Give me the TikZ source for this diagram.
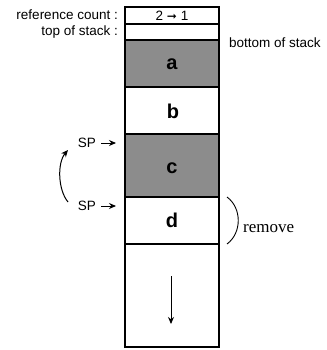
\documentclass[tikz,border=0pt]{standalone}
\usepackage{fontspec}
\setmainfont{Liberation Sans}
\newfontfamily\serifrm{Liberation Serif}
\newfontfamily\symf{DejaVu Sans}
\usetikzlibrary{arrows.meta}
\begin{document}
\begin{tikzpicture}[x=1pt,y=-1pt,
  cell/.style={draw=black,line width=1.4pt},
  shaded/.style={cell,fill=black!45,line width=1.9pt},
  lbl/.style={font=\fontsize{13.5}{15}\selectfont,inner sep=0pt},
  big/.style={font=\fontsize{20}{24}\selectfont\bfseries,inner sep=0pt},
  arr/.style={-{Stealth[length=7pt,width=6pt]},line width=1pt}]
\useasboundingbox (0,0) rectangle (326,350);
% cells
\draw[cell] (125,7) rectangle (219,24);
\draw[cell] (125,24) rectangle (219,40);
\draw[shaded] (125,40) rectangle (219,87);
\draw[cell] (125,87) rectangle (219,134);
\draw[shaded] (125,134) rectangle (219,197);
\draw[cell] (125,197) rectangle (219,244);
\draw[cell] (125,244) rectangle (219,347);
% labels in cells
\node[lbl] (rc) at (172,15.5) {2 {\symf\fontsize{12}{12}\selectfont ➞} 1};
\node[big] (a) at (172,64) {a};
\node[big] (b) at (173,111) {b};
\node[big] (c) at (172,168) {c};
\node[big] (d) at (172,220) {d};
% left labels
\node[lbl,anchor=east] (refc) at (118,15) {reference count :};
\node[lbl,anchor=east] (tos) at (118,32) {top of stack :};
\node[lbl,anchor=west] (bos) at (229,43) {bottom of stack};
% SP
\node[lbl,anchor=east] (sp1) at (96,143) {SP};
\node[lbl,anchor=east] (sp2) at (96,206) {SP};
\coordinate (sp1e) at (116,143);
\coordinate (sp2e) at (116,206);
\draw[arr] (sp1.east) ++(5,0) -- (sp1e);
\draw[arr] (sp2.east) ++(5,0) -- (sp2e);
\coordinate (cs) at (68,202);
\coordinate (ce) at (68,150);
\draw[arr] (cs) .. controls (58,190) and (57,163) .. (ce);
% remove
\coordinate (r1) at (227,197);
\coordinate (r2) at (227,244);
\draw[line width=0.9pt] (r1) .. controls (242,208) and (242,233) .. (r2);
\node[inner sep=0pt,anchor=west,font=\serifrm\fontsize{17}{19}\selectfont] (rm) at (243,229) {remove};
% down arrow
\coordinate (d1) at (171,276);
\coordinate (d2) at (171,324);
\draw[arr] (d1) -- (d2);
\end{tikzpicture}
\end{document}
